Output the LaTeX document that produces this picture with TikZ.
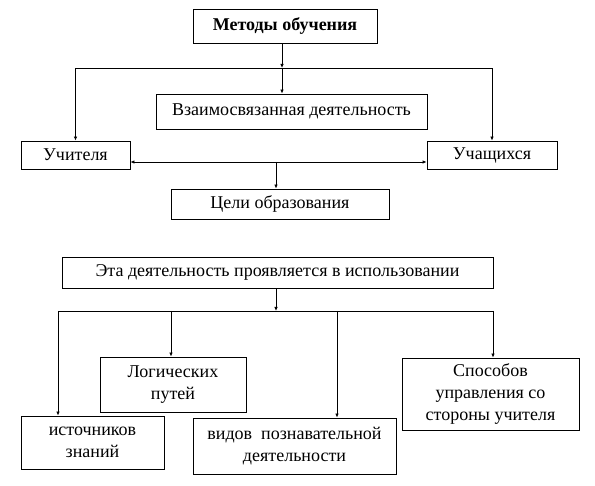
\documentclass[tikz,border=0pt]{standalone}
\usepackage{fontspec}
\setmainfont{Liberation Serif}
\usetikzlibrary{arrows.meta}
\begin{document}
\begin{tikzpicture}[x=1pt,y=-1pt,line width=0.8pt,>={Latex[length=4pt,width=3.5pt]},
    box/.style={draw,inner sep=0pt,align=center,font=\fontsize{18}{22}\selectfont}]
    \useasboundingbox (0,0) rectangle (595,486);
    \node[box,minimum width=184pt,minimum height=34pt,font=\fontsize{18}{22}\selectfont\bfseries] (metody) at (285,26) {Методы обучения};
    \node[box,minimum width=271pt,minimum height=35pt] (vzaim) at (291.5,111.5) {Взаимосвязанная деятельность};
    \node[box,minimum width=109pt,minimum height=28pt] (uchit) at (75.5,155) {Учителя};
    \node[box,minimum width=130pt,minimum height=28pt] (uchash) at (492,155) {Учащихся};
    \node[box,minimum width=218pt,minimum height=30pt] (celi) at (280,204) {Цели образования};
    \coordinate (top) at (282,68);
    \coordinate (mid) at (276,162);
    \draw[->] (metody.south -| top) -- (top);
    \draw[->] (top) -- (top |- vzaim.north);
    \draw[->] (top) -| (uchit.north);
    \draw[->] (top) -| (uchash.north);
    \draw[<->] ([yshift=-7pt]uchit.east) -- ([yshift=-7pt]uchash.west);
    \draw[->] (mid) -- (mid |- celi.north);
    \node[box,minimum width=431pt,minimum height=31pt] (eta) at (277.5,272.5) {Эта деятельность проявляется в использовании};
    \node[box,minimum width=143pt,minimum height=53pt] (istoch) at (92.5,442.5) {источников\\знаний};
    \node[box,minimum width=146pt,minimum height=55pt] (logich) at (173,384.5) {Логических\\путей};
    \node[box,minimum width=203pt,minimum height=56pt] (vidov) at (294.5,446) {видов~ познавательной\\деятельности};
    \node[box,minimum width=177pt,minimum height=72pt] (sposob) at (490.5,394) {Способов\\управления со\\стороны учителя};
    \coordinate (bus) at (276,311);
    \coordinate (b1) at (58,311);
    \coordinate (b2) at (171,311);
    \coordinate (b3) at (337,311);
    \coordinate (b4) at (493,311);
    \draw[->] (eta.south -| bus) -- (bus);
    \draw (b1) -- (b4);
    \draw[->] (b1) -- (b1 |- istoch.north);
    \draw[->] (b2) -- (b2 |- logich.north);
    \draw[->] (b3) -- (b3 |- vidov.north);
    \draw[->] (b4) -- (b4 |- sposob.north);
\end{tikzpicture}
\end{document}
